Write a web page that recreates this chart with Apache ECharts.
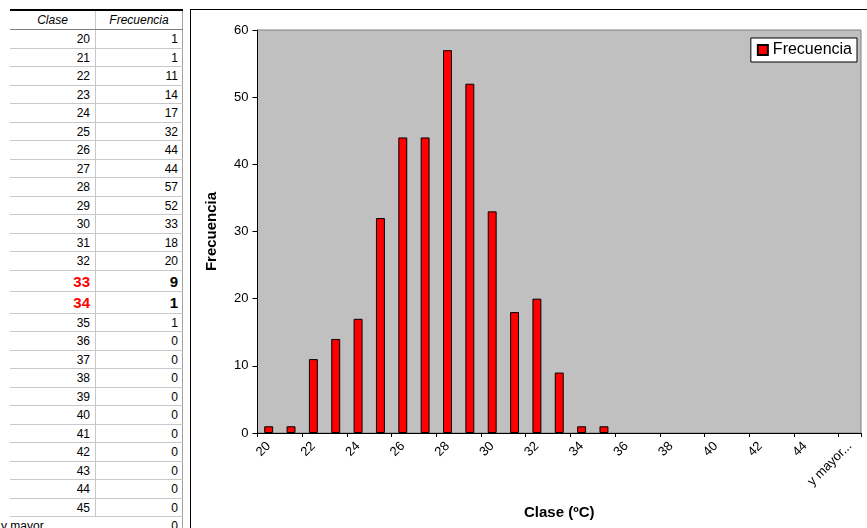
<!DOCTYPE html>
<html lang="es">
<head>
    <meta charset="UTF-8">
    <title>Frecuencia por clase</title>
    <script src="https://cdn.jsdelivr.net/npm/echarts@6/dist/echarts.min.js"></script>
    <style>
        body { margin: 0; width: 867px; height: 528px; overflow: hidden; background: #fff; position: relative;
               font-family: "Liberation Sans", Arial, sans-serif; }
        #tabla { position: absolute; left: 10px; top: 9px; width: 173px; border-top: 2px solid #000; }
        .fila { position: relative; height: 18.5px; border-bottom: 1px solid #c8c8c8; box-sizing: border-box; font-size: 12px; }
        .fila div { position: absolute; top: 0; bottom: 0; line-height: 18px; box-sizing: border-box; white-space: nowrap; }
        .c1 { left: 0; width: 86px; text-align: right; padding-right: 5px; border-right: 1px solid #c8c8c8; }
        .c2 { left: 86px; width: 87px; text-align: right; padding-right: 4px; border-right: 1px solid #a0a0a0; }
        .cab { height: 19px; border-bottom: 1px solid #808080; }
        .cab div { font-style: italic; text-align: center; padding-right: 0; }
        .marca { height: 21.5px; font-size: 15px; font-weight: bold; }
        .marca div { line-height: 21px; }
        .marca .c1 { color: #ff0000; }
        #main { position: absolute; left: 190px; top: 9px; width: 677px; height: 519px;
                border-left: 1px solid #000; border-top: 1px solid #000; box-sizing: border-box; }
    </style>
</head>
<body>
<div id="tabla"></div>
<div id="main"></div>

<script>
    const clases = ['20', '21', '22', '23', '24', '25', '26', '27', '28', '29', '30', '31', '32',
        '33', '34', '35', '36', '37', '38', '39', '40', '41', '42', '43', '44', '45', 'y mayor...'];
    const frecuencia = [1, 1, 11, 14, 17, 32, 44, 44, 57, 52, 33, 18, 20,
        9, 1, 1, 0, 0, 0, 0, 0, 0, 0, 0, 0, 0, 0];
    const resaltadas = ['33', '34'];
    const yTicks = {min: 0, max: 60, interval: 10};

    // tabla de la izquierda
    let html = '<div class="fila cab"><div class="c1">Clase</div><div class="c2">Frecuencia</div></div>';
    clases.forEach((c, i) => {
        let cls = resaltadas.indexOf(c) >= 0 ? 'fila marca' : 'fila';
        let estilo = c === 'y mayor...' ? ' style="text-align:left;left:-10px;padding-left:1px;border-right:none;width:96px"' : '';
        html += '<div class="' + cls + '"><div class="c1"' + estilo + '>' + c + '</div><div class="c2">' + frecuencia[i] + '</div></div>';
    });
    document.getElementById('tabla').innerHTML = html;

    const font = '"Liberation Sans", Arial, sans-serif';
    // las barras de valor 0 no se dibujan con borde (como en Excel)
    const barras = frecuencia.map(v => v === 0 ? {value: v, itemStyle: {borderWidth: 0}} : v);

    let myChart = echarts.init(document.getElementById('main'));
    myChart.setOption({
        animation: false,
        grid: {
            left: 66.5, top: 20, right: 6, bottom: 95,
            show: true, backgroundColor: '#c0c0c0', borderColor: '#808080', borderWidth: 1
        },
        legend: {
            right: 10, top: 28,
            backgroundColor: '#fff', borderColor: '#000', borderWidth: 1,
            padding: [4, 5, 4, 6],
            icon: 'rect', itemWidth: 10, itemHeight: 10, itemGap: 4,
            textStyle: {fontSize: 16, color: '#000', fontFamily: font, padding: [0, 0, 0, 0]},
            data: ['Frecuencia']
        },
        xAxis: {
            type: 'category',
            data: clases,
            boundaryGap: true,
            name: 'Clase (ºC)',
            nameLocation: 'middle',
            nameGap: 72,
            nameTextStyle: {fontSize: 15, fontWeight: 'bold', color: '#000', fontFamily: font},
            axisLine: {lineStyle: {color: '#000', width: 1}},
            axisTick: {show: true, length: 4, lineStyle: {color: '#000'}},
            axisLabel: {interval: 1, rotate: 45, fontSize: 13, color: '#000', fontFamily: font, margin: 11}
        },
        yAxis: {
            type: 'value',
            min: yTicks.min, max: yTicks.max, interval: yTicks.interval,
            name: 'Frecuencia',
            nameLocation: 'middle',
            nameRotate: 90,
            nameGap: 38,
            nameTextStyle: {fontSize: 15, fontWeight: 'bold', color: '#000', fontFamily: font},
            axisLine: {show: true, lineStyle: {color: '#000', width: 1}},
            axisTick: {show: true, length: 5, lineStyle: {color: '#000'}},
            axisLabel: {fontSize: 13, color: '#000', fontFamily: font, margin: 9},
            splitLine: {show: false}
        },
        series: [{
            name: 'Frecuencia',
            type: 'bar',
            data: barras,
            barWidth: '40%',
            itemStyle: {color: '#ff0000', borderColor: '#000', borderWidth: 1}
        }]
    });
</script>
</body>
</html>
